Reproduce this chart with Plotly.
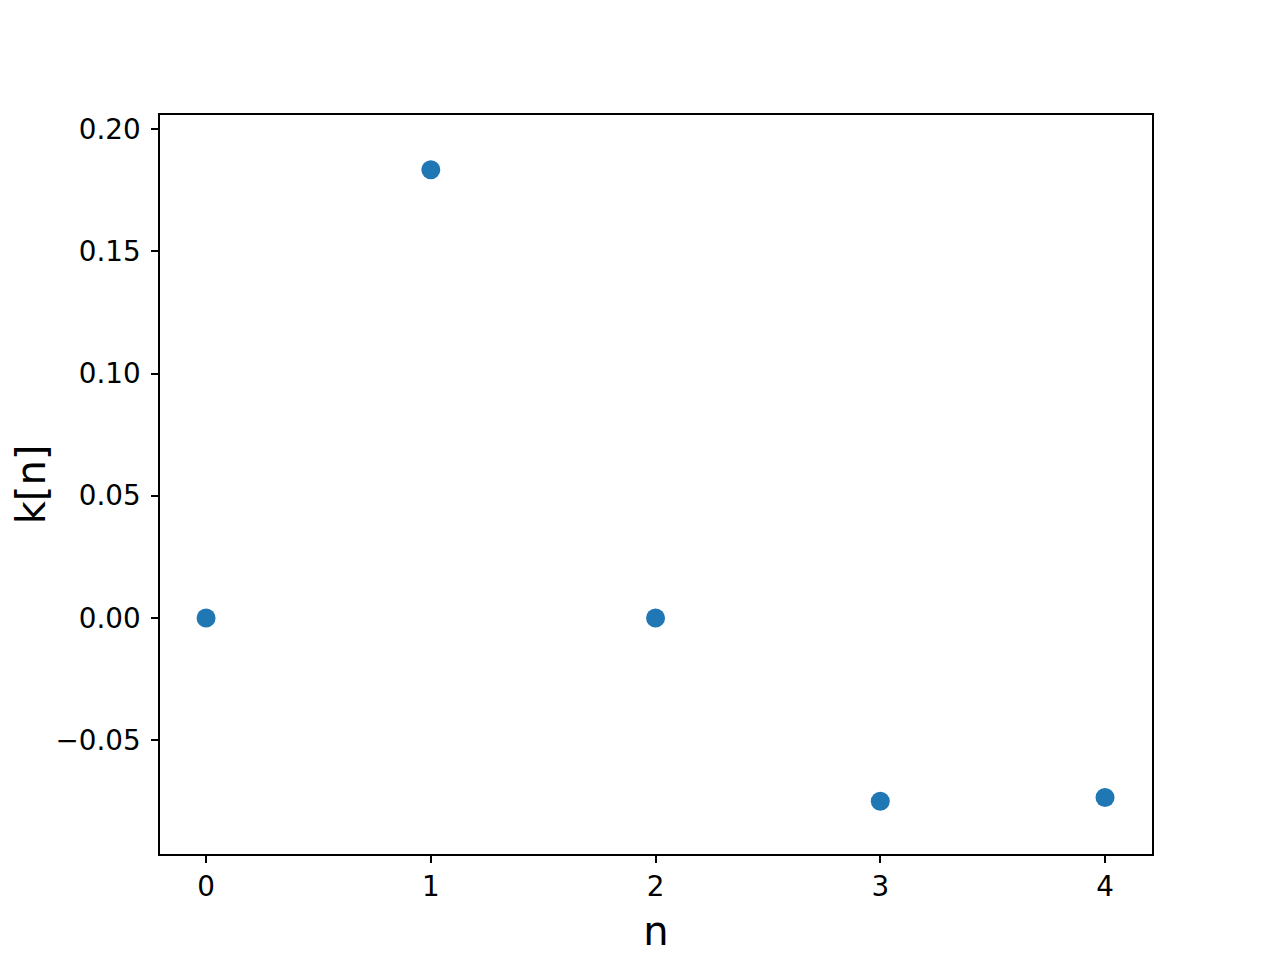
import plotly.graph_objects as go

# sample index and values
n = [0, 1, 2, 3, 4]
k = [0.0, 0.1834, 0.0, -0.0750, -0.0735]

fig = go.Figure()
fig.add_trace(go.Scatter(x=n, y=k, mode="markers",
                         marker=dict(color="#1f77b4", size=19),
                         showlegend=False))

axis_common = dict(showline=True, linecolor="black", linewidth=1.6, mirror=True,
                   ticks="outside", ticklen=7, tickwidth=1.6, tickcolor="black",
                   showgrid=False, zeroline=False,
                   tickfont=dict(family="DejaVu Sans", size=27.8, color="black"))

fig.update_xaxes(range=[-0.205, 4.209], tickmode="array", tickvals=[0, 1, 2, 3, 4],
                 title=dict(text="n", font=dict(family="DejaVu Sans", size=40, color="black"),
                            standoff=15),
                 **axis_common)
fig.update_yaxes(range=[-0.0966, 0.2058], tickmode="array",
                 tickvals=[-0.05, 0.0, 0.05, 0.10, 0.15, 0.20], tickformat=".2f",
                 ticklabelstandoff=5,
                 title=dict(text="k[n]", font=dict(family="DejaVu Sans", size=40, color="black"),
                            standoff=4),
                 **axis_common)

# page body has an 8px margin, so the plot box is shifted back by that much
fig.update_layout(width=1280, height=960,
                  margin=dict(l=152, r=136, t=107, b=114),
                  plot_bgcolor="white", paper_bgcolor="white")

fig.write_html("out.html")
